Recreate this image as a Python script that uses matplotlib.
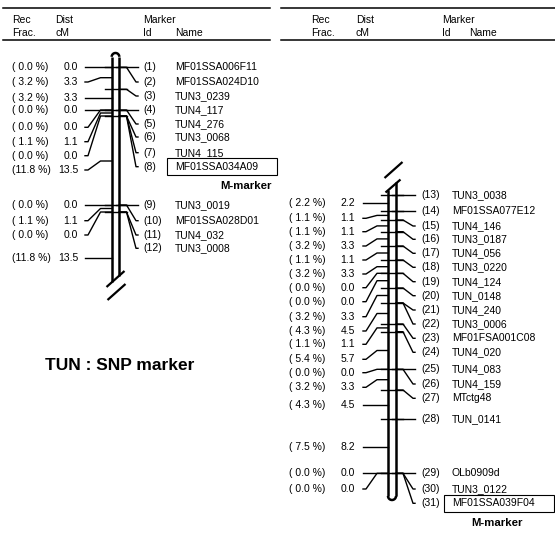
import numpy as np
import matplotlib
matplotlib.use("Agg")
from matplotlib import pyplot as plt
from matplotlib.patches import Rectangle

plt.rcParams['font.family'] = ['Liberation Sans', 'DejaVu Sans']

# ---- data: left linkage group ----
ids_a = [1, 2, 3, 4, 5, 6, 7, 8, 9, 10, 11, 12]
names_a = ["MF01SSA006F11", "MF01SSA024D10", "TUN3_0239", "TUN4_117", "TUN4_276",
           "TUN3_0068", "TUN4_115", "MF01SSA034A09", "TUN3_0019", "MF01SSA028D01",
           "TUN4_032", "TUN3_0008"]
rec_a = [0.0, 3.2, 3.2, 0.0, 0.0, 1.1, 0.0, 11.8, 0.0, 1.1, 0.0, 11.8]
dist_a = [0.0, 3.3, 3.3, 0.0, 0.0, 1.1, 0.0, 13.5, 0.0, 1.1, 0.0, 13.5]
# marker position on the drawn chromosome (map units, from picture)
pos_a = [67.3, 67.3, 89.3, 110, 110, 116, 116, 116, 205, 205, 212, 212]
# where each interval label points on the chromosome
ipos_a = [67.3, 77.7, 98.5, 110, 110, 113, 116, 161, 205, 208.5, 212, 258]

# ---- data: right linkage group ----
ids_b = list(range(13, 32))
names_b = ["TUN3_0038", "MF01SSA077E12", "TUN4_146", "TUN3_0187", "TUN4_056",
           "TUN3_0220", "TUN4_124", "TUN_0148", "TUN4_240", "TUN3_0006",
           "MF01FSA001C08", "TUN4_020", "TUN4_083", "TUN4_159", "MTctg48",
           "TUN_0141", "OLb0909d", "TUN3_0122", "MF01SSA039F04"]
rec_b = [2.2, 1.1, 1.1, 3.2, 1.1, 3.2, 0.0, 0.0, 3.2, 4.3, 1.1, 5.4, 0.0, 3.2,
         4.3, 7.5, 0.0, 0.0]
dist_b = [2.2, 1.1, 1.1, 3.3, 1.1, 3.3, 0.0, 0.0, 3.3, 4.5, 1.1, 5.7, 0.0, 3.3,
          4.5, 8.2, 0.0, 0.0]
pos_b = [195, 210.7, 220, 231.7, 246, 260, 273.3, 288, 303, 303, 324, 331.7,
         369.3, 369.3, 390, 419, 473.3, 473.3, 473.3]
ipos_b = [203.3, 215.4, 225.9, 238.9, 253, 266.7, 273.3, 280.7, 295.5, 313.5,
          327.9, 350.5, 369.3, 379.7, 404.5, 447.3, 473.3, 473.3]

boxed = ["MF01SSA034A09", "MF01SSA039F04"]

# ---- layout (pixel units of the figure) ----
rows_ra = [67.3, 82, 96, 110, 124, 137, 152.7, 166.7, 205, 220.7, 235, 248.3]
rows_la = [67.3, 82, 97.8, 110, 127.3, 141.7, 155.7, 170, 205, 220.7, 235, 258]
rows_rb = [195, 210.7, 226, 239.3, 253.3, 267.3, 281.7, 295.7, 310, 324, 338.3,
           352.3, 369.3, 384, 398.3, 419, 473.3, 489, 503.3]
rows_lb = [203.3, 218.3, 231.7, 246, 260, 274, 287.7, 301.7, 316.7, 331, 344.3,
           359.3, 372.7, 387.3, 404.5, 447.3, 473.3, 489]

FS = 7.5
LW = 1.0

fig = plt.figure(figsize=(5.55, 5.34), dpi=100)
ax = fig.add_axes([0, 0, 1, 1])
ax.set_xlim(0, 555)
ax.set_ylim(534, 0)
ax.axis('off')


def header(x0, x1, xr, xd, xm, xn):
    ax.plot([x0, x1], [8, 8], color='black', lw=1.1)
    ax.plot([x0, x1], [40, 40], color='black', lw=1.1)
    ax.text(xr, 20, "Rec", fontsize=FS, va='center')
    ax.text(xr, 33, "Frac.", fontsize=FS, va='center')
    ax.text(xd, 20, "Dist", fontsize=FS, va='center')
    ax.text(xd, 33, "cM", fontsize=FS, va='center')
    ax.text(xm, 20, "Marker", fontsize=FS, va='center')
    ax.text(xm, 33, "Id", fontsize=FS, va='center')
    ax.text(xn, 33, "Name", fontsize=FS, va='center')


def slash(xc, yc, dx=9, dy=8):
    ax.plot([xc - dx, xc + dx], [yc + dy, yc - dy], color='black', lw=1.6,
            solid_capstyle='butt')


def chrom(xc, hw, top, bot, top_round, bot_round, ycut):
    # ycut: centre of the break slash touching the chromosome
    k = 8 / 9
    t = np.linspace(0, np.pi, 40)
    kw = dict(color='black', lw=1.8, solid_capstyle='butt')
    if top_round:
        yl_top = yr_top = top + hw
        ax.plot(xc + hw * np.cos(t), top + hw - hw * np.sin(t), **kw)
    else:
        yl_top = ycut + hw * k
        yr_top = ycut - hw * k
    if bot_round:
        yl_bot = yr_bot = bot - hw
        ax.plot(xc + hw * np.cos(t), bot - hw + hw * np.sin(t), **kw)
    else:
        yl_bot = ycut + hw * k
        yr_bot = ycut - hw * k
    ax.plot([xc - hw, xc - hw], [yl_top, yl_bot], **kw)
    ax.plot([xc + hw, xc + hw], [yr_top, yr_bot], **kw)


def group(xc, hw, ids, names, rec, dist, pos, ipos, rows_r, rows_l,
          x_rec, x_dist, x_lstart, x_rend, x_id, x_name, mm_x, mm_ha):
    # ticks across the chromosome
    for p in sorted(set(pos)):
        ax.plot([xc - 11, xc + 11], [p, p], color='black', lw=LW)
    # right side: marker id + name
    for i, (m, nm, p, r) in enumerate(zip(ids, names, pos, rows_r)):
        if abs(p - r) < 1.5:
            xs, ys = [xc, x_rend], [p, p]
        else:
            xs = [xc + hw, xc + 11, x_rend - 2, x_rend]
            ys = [p, p, r, r]
        ax.plot(xs, ys, color='black', lw=LW)
        ax.text(x_id, r, "(%d)" % m, fontsize=FS, va='center')
        ax.text(x_name, r, nm, fontsize=FS, va='center')
        if nm in boxed:
            ax.add_patch(Rectangle((x_name - 8.5, r - 8.7), 110.0, 17.3,
                                   fill=False, ec='black', lw=0.8))
            ax.text(mm_x, r + 19.5, "M-marker", fontsize=8.2,
                    fontweight='bold', va='center', ha=mm_ha)
    # left side: recombination fraction + interval distance
    for rf, d, p, r in zip(rec, dist, ipos, rows_l):
        if abs(p - r) < 1.5:
            xs, ys = [x_lstart, xc - hw], [r, r]
        else:
            xs = [x_lstart, x_lstart + 3, xc - 15, xc - hw]
            ys = [r, r, p, p]
        ax.plot(xs, ys, color='black', lw=LW)
        ax.text(x_rec, r, "(%4.1f %%)" % rf, fontsize=FS, va='center')
        ax.text(x_dist, r, "%.1f" % d, fontsize=FS, va='center', ha='right')


header(3, 270, 12, 55, 143, 175)
header(281, 555, 311, 356, 442, 469)

# left group: rounded top, broken bottom
chrom(115.5, 3.8, 53, None, True, False, 279)
slash(115.5, 279)
slash(116.5, 292)
group(115.5, 3.8, ids_a, names_a, rec_a, dist_a, pos_a, ipos_a, rows_ra, rows_la,
      12, 78, 85, 138, 143, 175, 272, 'right')

# right group: broken top, rounded bottom
chrom(392, 4.0, None, 500, False, True, 186)
slash(393, 186, 7.5, 6.5)
slash(393.5, 170)
group(392, 4.0, ids_b, names_b, rec_b, dist_b, pos_b, ipos_b, rows_rb, rows_lb,
      289, 355, 363, 415, 421, 452, 497, 'center')

ax.text(45, 365, "TUN : SNP marker", fontsize=12.5, fontweight='bold', va='center')

fig.savefig("out.png", dpi=100)
